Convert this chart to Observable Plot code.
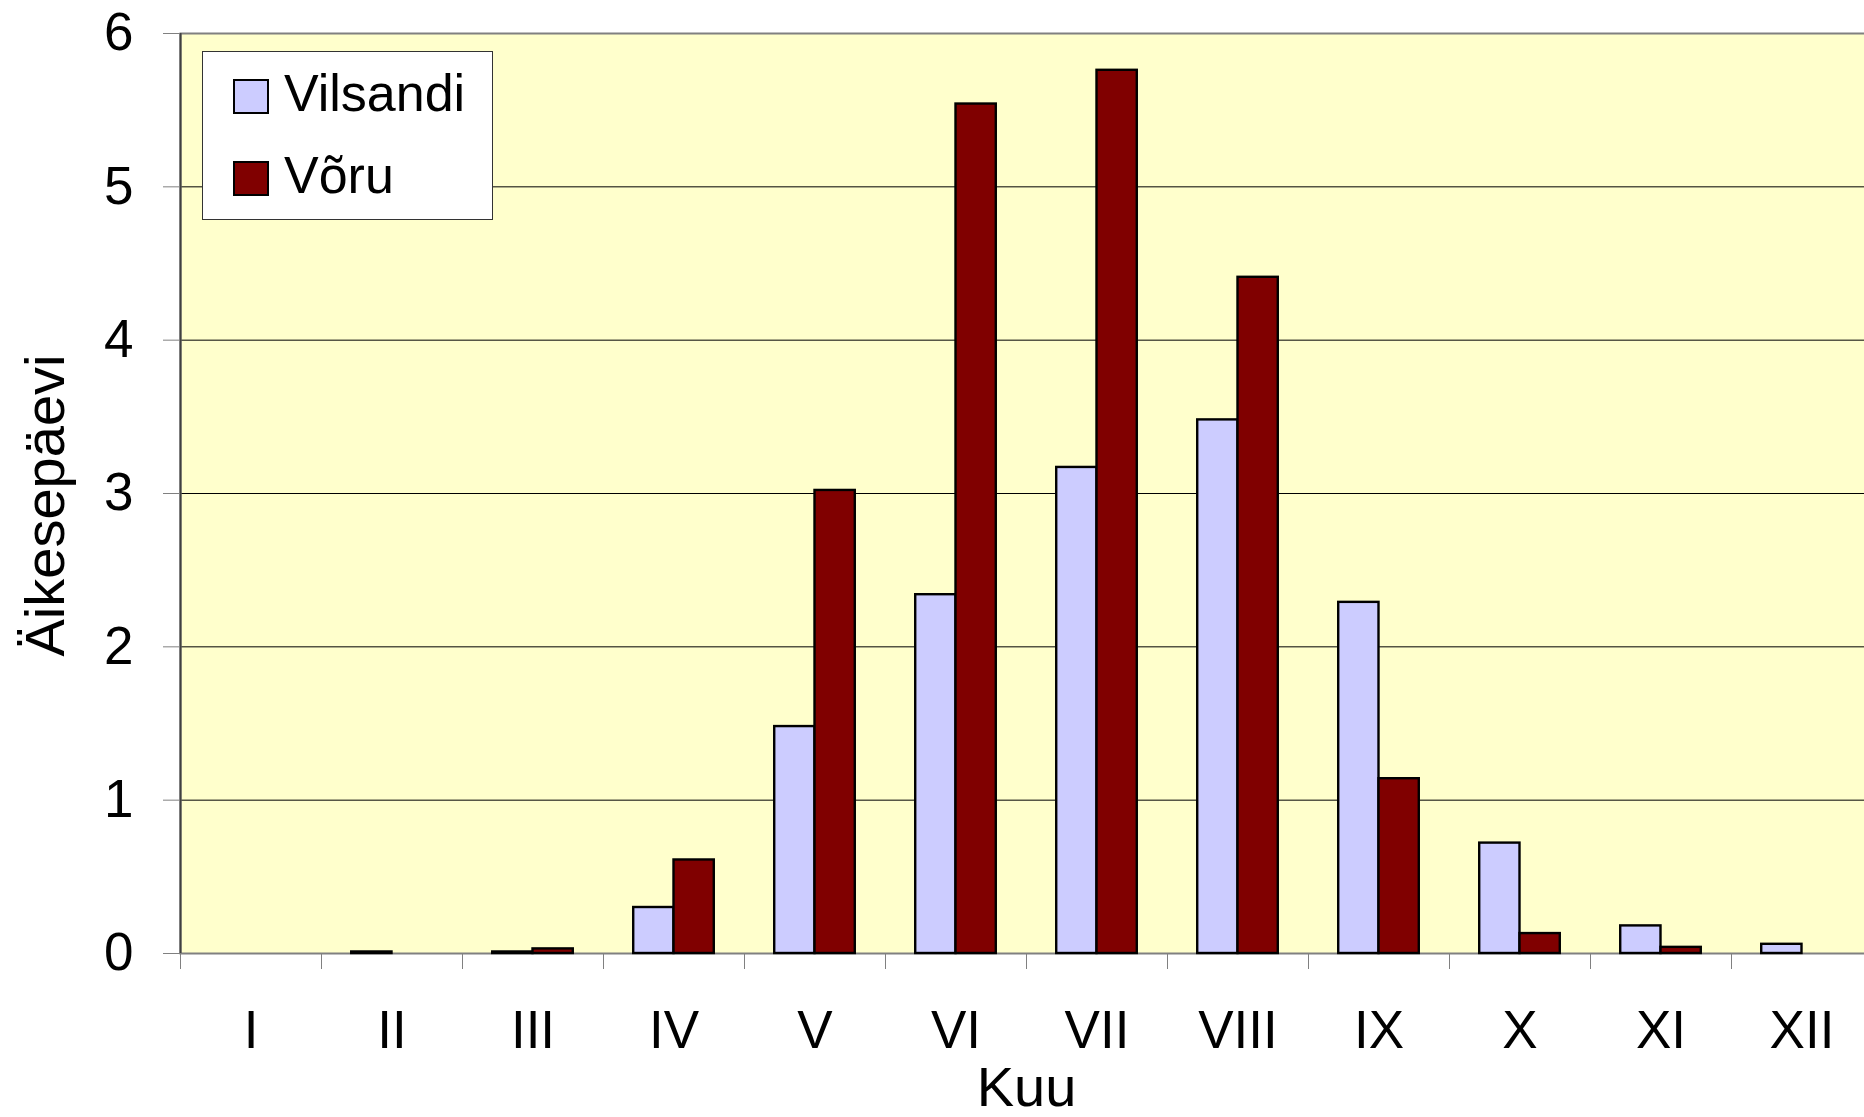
<!DOCTYPE html>
<html>
<head>
<meta charset="utf-8">
<script src="https://cdn.jsdelivr.net/npm/d3@7"></script>
<script src="https://cdn.jsdelivr.net/npm/@observablehq/plot@0.6"></script>
<style>
  html, body { margin: 0; padding: 0; background: #fff; overflow: hidden; }
  #wrap { position: relative; width: 1864px; height: 1117px; overflow: hidden; }
  #wrap svg { max-width: none !important; }
  #legend { position: absolute; box-sizing: border-box; background: #fff; border: 1px solid #333;
            font-family: 'Liberation Sans', Arial, sans-serif; }
  .sw { position: absolute; box-sizing: border-box; border: 2px solid #000; }
  .lab { position: absolute; font-size: 52px; line-height: 52px; color: #000; white-space: nowrap; }
</style>
</head>
<body>
<div id="wrap"></div>
<script>
// ---- data ----
const months = ["I", "II", "III", "IV", "V", "VI", "VII", "VIII", "IX", "X", "XI", "XII"];
const series = ["Vilsandi", "Võru"];
const vilsandi = [0, 0.01, 0.01, 0.30, 1.48, 2.34, 3.17, 3.48, 2.29, 0.72, 0.18, 0.06];
const voru     = [0, 0, 0.03, 0.61, 3.02, 5.54, 5.76, 4.41, 1.14, 0.13, 0.04, 0];
const colors = ["#CCCCFF", "#800000"];
const yTicks = [0, 1, 2, 3, 4, 5, 6];
const xTitle = "Kuu";
const yTitle = "Äikesepäevi";

// ---- layout ----
const W = 1872, H = 1117;
const mL = 180, mR = 0, mT = 33, mB = 164;
const bw = (W - mL - mR) / months.length;   // category width
const barW = bw / 3.5;                      // gap width 150%
const outer = (bw - 2 * barW) / 2;

const values = [vilsandi, voru];
const rows = months.flatMap((m, i) => series.map((s, j) => ({month: m, series: s, value: values[j][i]})));

const barMarks = series.map((s, j) => Plot.barY(rows, {
  filter: d => d.series === s && d.value > 0,
  x: "month", y: "value",
  fill: colors[j], stroke: "#000", strokeWidth: 2.4,
  insetLeft: j === 0 ? outer : outer + barW,
  insetRight: j === 0 ? outer + barW : outer
}));

const chart = Plot.plot({
  width: W, height: H,
  marginLeft: mL, marginRight: mR, marginTop: mT, marginBottom: mB,
  style: {fontFamily: "'Liberation Sans', Arial, sans-serif", fontSize: "53px", color: "#000", background: "#fff", maxWidth: "none"},
  x: {type: "band", domain: months, padding: 0},
  y: {domain: [0, 6]},
  marks: [
    Plot.frame({fill: "#FFFFCC", stroke: "none"}),
    Plot.ruleY(yTicks.filter(t => t > 0 && t < 6), {stroke: "#000", strokeWidth: 1}),
    Plot.frame({stroke: "#808080", strokeWidth: 2, fill: "none"}),
    Plot.ruleX([months[0]], {dx: -bw / 2, stroke: "#404040", strokeWidth: 2}),
    ...barMarks,
    Plot.axisX({tickSize: 16, tickFormat: () => "", dx: -bw / 2, stroke: "#808080", label: null}),
    Plot.axisX({tickSize: 0, tickPadding: 57, fontSize: 53, label: null}),
    Plot.axisY({ticks: yTicks, tickFormat: d => String(d), tickSize: 17, tickPadding: 30, stroke: "#808080", fontSize: 53, label: null}),
    Plot.text([xTitle], {frameAnchor: "bottom", dy: 152, lineAnchor: "bottom", fontSize: 56, fill: "#000"}),
    Plot.text([yTitle], {frameAnchor: "left", dx: -117, dy: 12, rotate: -90, textAnchor: "middle", lineAnchor: "bottom", fontSize: 56, fill: "#000"})
  ]
});

const wrap = document.getElementById("wrap");
wrap.appendChild(chart);

// ---- legend ----
const legend = document.createElement("div");
legend.id = "legend";
Object.assign(legend.style, {left: "202px", top: "51px", width: "291px", height: "169px"});
series.forEach((s, j) => {
  const sw = document.createElement("div");
  sw.className = "sw";
  Object.assign(sw.style, {left: "30px", top: (27 + j * 82) + "px", width: "36px", height: "35px", background: colors[j]});
  const lab = document.createElement("div");
  lab.className = "lab";
  lab.textContent = s;
  Object.assign(lab.style, {left: "81px", top: (15 + j * 82) + "px"});
  legend.appendChild(sw);
  legend.appendChild(lab);
});
wrap.appendChild(legend);
</script>
</body>
</html>
